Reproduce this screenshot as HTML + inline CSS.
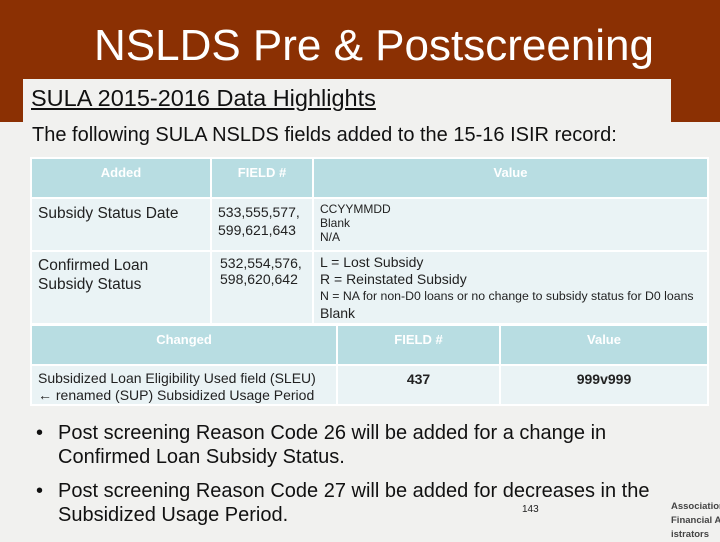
<!DOCTYPE html>
<html><head><meta charset="utf-8"><style>
body{margin:0;width:720px;height:540px;overflow:hidden;background:#f1f1ef;font-family:"Liberation Sans",sans-serif;position:relative}
.a{position:absolute}
.hdr{left:0;top:0;width:720px;height:122px;background:#8b3003}
.title{left:0;width:748px;top:21px;text-align:center;color:#fff;font-size:44px;white-space:nowrap}
.sub{left:23px;top:79px;width:648px;height:43px;background:#f1f1ef}
.sub span{position:absolute;left:8px;top:6px;font-size:23.5px;text-decoration:underline;color:#111;white-space:nowrap}
.intro{left:32px;top:124px;font-size:20px;color:#111;white-space:nowrap}
table{position:absolute;border-collapse:collapse;left:30px;font-family:"Liberation Sans",sans-serif;table-layout:fixed}
td{border:2px solid #fff;vertical-align:top;padding:0;color:#222;white-space:nowrap;overflow:hidden}
th{border:2px solid #fff;background:#b8dde2;color:#fff;font-weight:bold;font-size:13px;vertical-align:top;padding-top:6px}
.b td{background:#eaf3f5}
.bul{left:30px;font-size:20px;color:#111;line-height:24px;white-space:nowrap}
.bul b{position:absolute;left:6px;font-weight:normal}
.bul div{margin-left:28px}
</style></head><body>
<div class="a hdr"></div>
<div class="a title">NSLDS Pre &amp; Postscreening</div>
<div class="a sub"><span>SULA 2015-2016 Data Highlights</span></div>
<div class="a intro">The following SULA NSLDS fields added to the 15-16 ISIR record:</div>
<table style="top:157px;width:679px">
<colgroup><col style="width:180px"><col style="width:102px"><col></colgroup>
<tr style="height:40px"><th>Added</th><th>FIELD #</th><th>Value</th></tr>
<tr class="b" style="height:53px"><td style="font-size:15.5px;padding:6px 0 0 6px">Subsidy Status Date</td><td style="font-size:14px;padding:4px 0 0 6px;line-height:18px">533,555,577,<br>599,621,643</td><td style="font-size:12px;padding:3px 0 0 6px;line-height:14px">CCYYMMDD<br>Blank<br>N/A</td></tr>
<tr class="b" style="height:73px"><td style="font-size:15.5px;padding:4px 0 0 6px;line-height:19px">Confirmed Loan<br>Subsidy Status</td><td style="font-size:14px;padding:3px 0 0 8px;line-height:16px">532,554,576,<br>598,620,642</td><td style="font-size:14px;padding:2px 0 0 6px;line-height:16.5px">L = Lost Subsidy<br>R = Reinstated Subsidy<br><span style="font-size:12.3px">N = NA for non-D0 loans or no change to subsidy status for D0 loans</span><br>Blank</td></tr>
</table>
<table style="top:324px;width:679px">
<colgroup><col style="width:306px"><col style="width:163px"><col></colgroup>
<tr style="height:40px"><th>Changed</th><th>FIELD #</th><th>Value</th></tr>
<tr class="b" style="height:40px"><td style="font-size:14px;padding:4px 0 0 6px;line-height:17px">Subsidized Loan Eligibility Used field (SLEU)<br>← renamed (SUP) Subsidized Usage Period</td><td style="font-size:14px;font-weight:bold;text-align:center;padding-top:5px">437</td><td style="font-size:14px;font-weight:bold;text-align:center;padding-top:5px">999v999</td></tr>
</table>
<div class="a bul" style="top:421px"><b>•</b><div>Post screening Reason Code 26 will be added for a change in<br>Confirmed Loan Subsidy Status.</div></div>
<div class="a bul" style="top:479px"><b>•</b><div>Post screening Reason Code 27 will be added for decreases in the<br>Subsidized Usage Period.</div></div>
<div class="a" style="left:522px;top:504px;font-size:10px;color:#222">143</div>
<div class="a" style="left:671px;top:500px;font-size:9.5px;line-height:14px;color:#444;white-space:nowrap;font-weight:bold">Association<br>Financial Aid<br>istrators</div>
</body></html>
